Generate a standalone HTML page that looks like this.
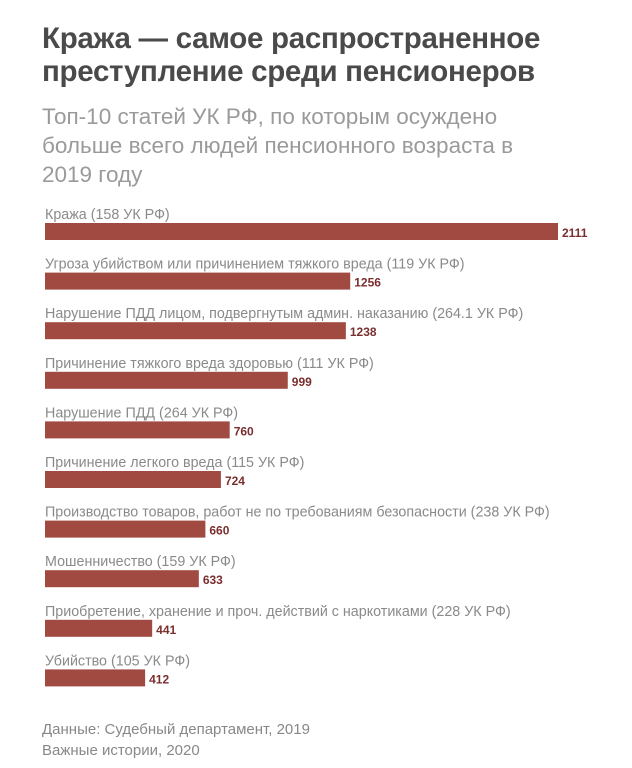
<!DOCTYPE html>
<html><head><meta charset="utf-8"><style>
body{margin:0;width:632px;height:768px;background:#fff;font-family:"Liberation Sans",sans-serif;overflow:hidden;position:relative}
.t{position:absolute;left:42px;top:22px;font-size:29.5px;font-weight:bold;color:#4a4a4a;line-height:33px;letter-spacing:-0.3px}
.s{position:absolute;left:42px;top:102px;font-size:22.5px;color:#9a9a9a;line-height:29px;white-space:nowrap}
.f{position:absolute;left:42px;top:719px;font-size:15px;color:#888;line-height:21px}
</style></head><body>
<div class="t">Кража — самое распространенное<br>преступление среди пенсионеров</div>
<div class="s">Топ-10 статей УК РФ, по которым осуждено<br>больше всего людей пенсионного возраста в<br>2019 году</div>
<svg id="c" width="632" height="768" style="position:absolute;left:0;top:0"></svg>
<div class="f">Данные: Судебный департамент, 2019<br>Важные истории, 2020</div>
<script>
const categories=["Кража (158 УК РФ)","Угроза убийством или причинением тяжкого вреда (119 УК РФ)","Нарушение ПДД лицом, подвергнутым админ. наказанию (264.1 УК РФ)","Причинение тяжкого вреда здоровью (111 УК РФ)","Нарушение ПДД (264 УК РФ)","Причинение легкого вреда (115 УК РФ)","Производство товаров, работ не по требованиям безопасности (238 УК РФ)","Мошенничество (159 УК РФ)","Приобретение, хранение и проч. действий с наркотиками (228 УК РФ)","Убийство (105 УК РФ)"];
const values=[2111,1256,1238,999,760,724,660,633,441,412];
const svg=document.getElementById('c');const NS='http://www.w3.org/2000/svg';
const x0=45,maxW=513,maxV=2111,y0=223,step=49.6,h=17;
const xs=v=>v/maxV*maxW;
categories.forEach((c,i)=>{
 const y=y0+i*step;
 const l=document.createElementNS(NS,'text');
 
 
 l.setAttribute('x',x0);l.setAttribute('y',y-4);l.setAttribute('font-size','14.3');l.setAttribute('fill','#8a8a8a');l.textContent=c;svg.appendChild(l);
 const r=document.createElementNS(NS,'rect');
 
 
 r.setAttribute('x',x0);r.setAttribute('y',y);r.setAttribute('width',xs(values[i]));r.setAttribute('height',h);r.setAttribute('fill','#a14a42');svg.appendChild(r);
 const v=document.createElementNS(NS,'text');
 
 
 v.setAttribute('x',x0+xs(values[i])+4);v.setAttribute('y',y+14);v.setAttribute('font-size','12');v.setAttribute('font-weight','bold');v.setAttribute('fill','#7a2e2e');v.textContent=values[i];svg.appendChild(v);
});
</script>
</body></html>
